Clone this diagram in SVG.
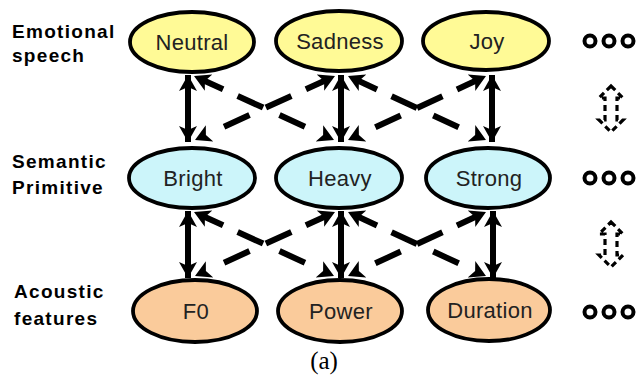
<svg xmlns="http://www.w3.org/2000/svg" width="640" height="376" viewBox="0 0 640 376">
<style>
.lbl{font-family:"Liberation Sans",Arial,sans-serif;font-size:19px;font-weight:bold;letter-spacing:1.3px;fill:#000}
.nt{font-family:"Liberation Sans",Arial,sans-serif;font-size:22px;fill:#222;text-anchor:middle;letter-spacing:0.3px}
.ell{stroke:#000;stroke-width:3.8}
.y{fill:#FFFA96}
.b{fill:#CCF5FA}
.o{fill:#FACB9B}
.v{stroke:#000;stroke-width:6;fill:none;marker-start:url(#ah);marker-end:url(#ah)}
.d{stroke:#000;stroke-width:6;fill:none;stroke-dasharray:0 9 23 16 28 18 28 80;marker-start:url(#ah);marker-end:url(#ah)}
.dot{fill:#fff;stroke:#000;stroke-width:4}
.ba{fill:none;stroke:#000;stroke-width:3.2;stroke-dasharray:6 4}
</style>
<defs>
<marker id="ah" markerUnits="userSpaceOnUse" markerWidth="18" markerHeight="20" refX="16" refY="10" orient="auto-start-reverse">
<path d="M0,1 L16,10 L0,19 L4,10 z" fill="#000"/>
</marker>
</defs>
<g id="labels">
<text class="lbl" x="12" y="38">Emotional</text>
<text class="lbl" x="12" y="62">speech</text>
<text class="lbl" x="12" y="168">Semantic</text>
<text class="lbl" x="12" y="194">Primitive</text>
<text class="lbl" x="14" y="298">Acoustic</text>
<text class="lbl" x="14" y="325">features</text>
</g>
<g id="connectors">
<line class="v" x1="188" y1="75" x2="188" y2="142"/>
<line class="v" x1="341" y1="75" x2="341" y2="142"/>
<line class="v" x1="492" y1="75" x2="492" y2="142"/>
<line class="d" x1="194" y1="76" x2="334" y2="140"/>
<line class="d" x1="335" y1="76" x2="195" y2="140"/>
<line class="d" x1="348" y1="76" x2="486" y2="140"/>
<line class="d" x1="486" y1="76" x2="348" y2="140"/>
<line class="v" x1="188" y1="211" x2="188" y2="278"/>
<line class="v" x1="341" y1="211" x2="341" y2="278"/>
<line class="v" x1="493" y1="211" x2="493" y2="278"/>
<line class="d" x1="194" y1="212" x2="334" y2="276"/>
<line class="d" x1="335" y1="212" x2="195" y2="276"/>
<line class="d" x1="348" y1="212" x2="486" y2="276"/>
<line class="d" x1="486" y1="212" x2="348" y2="276"/>
</g>
<g id="neutral"><ellipse class="ell y" cx="192" cy="42" rx="62" ry="30"/><text class="nt" x="192" y="50">Neutral</text></g>
<g id="sadness"><ellipse class="ell y" cx="339" cy="41" rx="63" ry="30"/><text class="nt" x="340" y="49">Sadness</text></g>
<g id="joy"><ellipse class="ell y" cx="486" cy="41" rx="63" ry="29"/><text class="nt" x="487" y="49">Joy</text></g>
<g id="bright"><ellipse class="ell b" cx="192" cy="178" rx="63" ry="30"/><text class="nt" x="193" y="186">Bright</text></g>
<g id="heavy"><ellipse class="ell b" cx="339" cy="178" rx="63" ry="30"/><text class="nt" x="340" y="186">Heavy</text></g>
<g id="strong"><ellipse class="ell b" cx="488" cy="178" rx="62" ry="30"/><text class="nt" x="489" y="186">Strong</text></g>
<g id="f0"><ellipse class="ell o" cx="195" cy="311" rx="62" ry="31"/><text class="nt" x="196" y="319">F0</text></g>
<g id="power"><ellipse class="ell o" cx="340" cy="311" rx="62" ry="31"/><text class="nt" x="341" y="319">Power</text></g>
<g id="duration"><ellipse class="ell o" cx="489" cy="310" rx="61" ry="31"/><text class="nt" x="490" y="318">Duration</text></g>
<g id="more-emotional"><circle class="dot" cx="590" cy="41" r="5.5"/><circle class="dot" cx="609" cy="41" r="5.5"/><circle class="dot" cx="628" cy="41" r="5.5"/></g>
<g id="more-semantic"><circle class="dot" cx="590" cy="178" r="5.5"/><circle class="dot" cx="609" cy="178" r="5.5"/><circle class="dot" cx="628" cy="178" r="5.5"/></g>
<g id="more-acoustic"><circle class="dot" cx="590" cy="312" r="5.5"/><circle class="dot" cx="609" cy="312" r="5.5"/><circle class="dot" cx="628" cy="312" r="5.5"/></g>
<g id="dashed-arrows">
<path class="ba" d="M611,86 L623,98 L617,98 L617,120 L623,120 L611,132 L599,120 L605,120 L605,98 L599,98 Z"/>
<path class="ba" d="M611,222 L623,234 L617,234 L617,255 L623,255 L611,267 L599,255 L605,255 L605,234 L599,234 Z"/>
</g>
<text x="324" y="369" font-family="Liberation Serif,'Times New Roman',serif" font-size="25" text-anchor="middle" fill="#000">(a)</text>
</svg>
